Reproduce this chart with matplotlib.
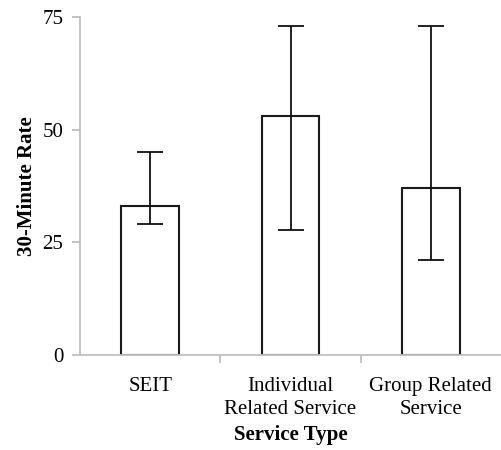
import matplotlib
matplotlib.use("Agg")
import matplotlib.pyplot as plt
import numpy as np

categories = ["SEIT", "Individual\nRelated Service", "Group Related\nService"]
means = [33, 53, 37]
upper = [45, 73, 73]
lower = [29, 27.7, 21]
yticks = [0, 25, 50, 75]

plt.rcParams['font.family'] = ['Liberation Serif', 'DejaVu Serif']

fig = plt.figure(figsize=(5.01, 4.5), dpi=100)
ax = fig.add_axes([80/501, 1-355/450, 421/501, 338/450])

x = np.arange(len(categories))
yerr = np.array([[m - l for m, l in zip(means, lower)],
                 [u - m for m, u in zip(means, upper)]])
ax.bar(x, means, width=0.41, facecolor='white', edgecolor='#1a1a1a', linewidth=1.5, zorder=2)
ax.errorbar(x, means, yerr=yerr, fmt='none', ecolor='#111111', elinewidth=1.3,
            capsize=9.7, capthick=1.3, zorder=3)

ax.set_xlim(-0.5, 2.5)
ax.set_ylim(0, 75)
ax.set_yticks(yticks)
ax.set_xticks(x)
ax.set_xticklabels(categories, linespacing=1.3)
ax.set_xticks([0.5, 1.5], minor=True)
ax.tick_params(axis='x', which='major', length=0, pad=16, labelsize=15)
ax.tick_params(axis='x', which='minor', length=6, color='#bfbfbf', width=1.3)
ax.tick_params(axis='y', length=6, color='#bfbfbf', width=1.3, labelsize=15, pad=6)

for s in ['top', 'right']:
    ax.spines[s].set_visible(False)
for s in ['left', 'bottom']:
    ax.spines[s].set_color('#bfbfbf')
    ax.spines[s].set_linewidth(1.3)

ax.set_ylabel("30-Minute Rate", fontsize=15, fontweight='bold', labelpad=4)
ax.set_xlabel("Service Type", fontsize=15, fontweight='bold', labelpad=4)

fig.savefig("out.png", dpi=100)
